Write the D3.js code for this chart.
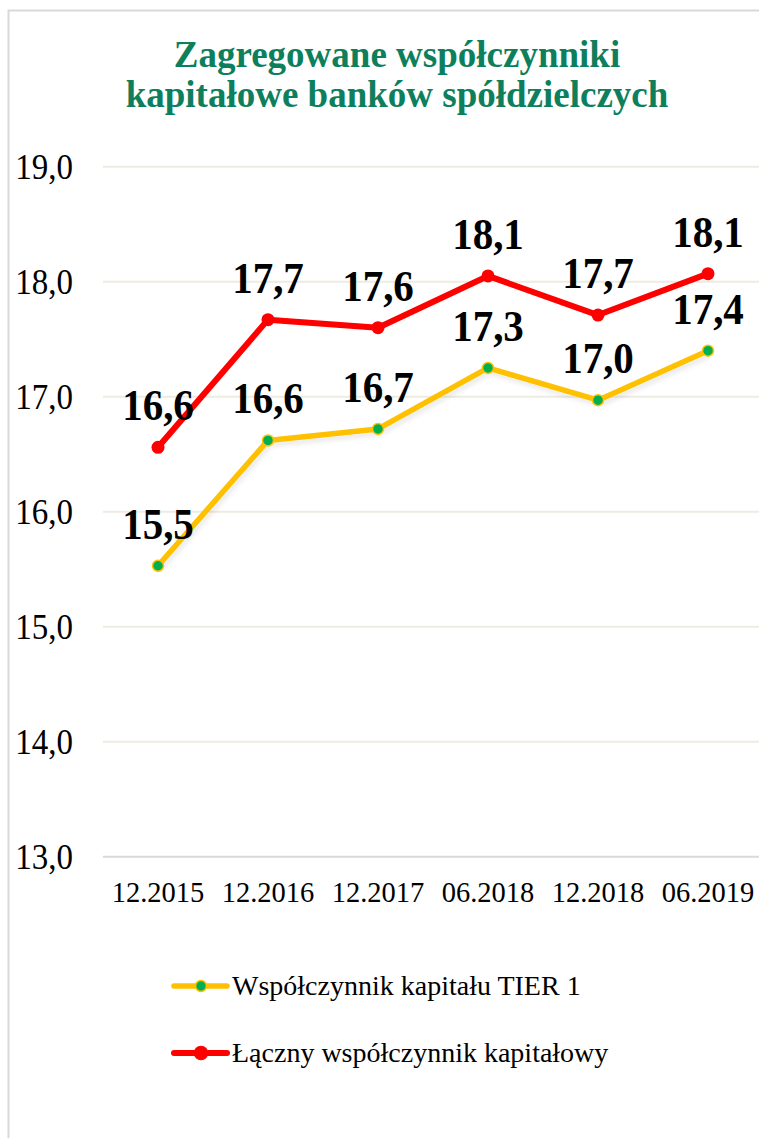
<!DOCTYPE html>
<html>
<head>
<meta charset="utf-8">
<script src="https://cdn.jsdelivr.net/npm/d3@7"></script>
<style>
  body { margin: 0; background: #fff; }
</style>
</head>
<body>
<svg id="chart"></svg>
<script>
// data
const periods = ["12.2015", "12.2016", "12.2017", "06.2018", "12.2018", "06.2019"];
const tier1 = [15.53, 16.62, 16.72, 17.25, 16.97, 17.40];
const total = [16.56, 17.67, 17.60, 18.05, 17.71, 18.07];
const tier1Labels = ["15,5", "16,6", "16,7", "17,3", "17,0", "17,4"];
const totalLabels = ["16,6", "17,7", "17,6", "18,1", "17,7", "18,1"];
const yTicks = [13, 14, 15, 16, 17, 18, 19];
const seriesNames = ["Współczynnik kapitału TIER 1", "Łączny współczynnik kapitałowy"];

const width = 759;
const height = 1138;
const serif = '"Liberation Serif", "Times New Roman", serif';
const stretch = 1.07; // text in the original is slightly taller than wide

const svg = d3.select("#chart")
  .attr("width", width)
  .attr("height", height)
  .style("font-family", serif);

// place text at (x, y) with a small vertical stretch
const place = (x, y) => `translate(${x},${y}) scale(1,${stretch})`;

// chart border
svg.append("rect")
  .attr("x", 8.5)
  .attr("y", 10.5)
  .attr("width", 800)
  .attr("height", 1200)
  .attr("fill", "none")
  .attr("stroke", "#d9d9d9")
  .attr("stroke-width", 2);

// title
const title = svg.append("text")
  .style("font-family", serif)
  .attr("text-anchor", "middle")
  .attr("fill", "#0d7f5d")
  .attr("font-weight", "bold")
  .attr("font-size", 37);
title.append("tspan").attr("x", 397).attr("y", 67).text("Zagregowane współczynniki");
title.append("tspan").attr("x", 397).attr("y", 107).text("kapitałowe banków spółdzielczych");

const xScale = d3.scalePoint()
  .domain(periods)
  .range([103, 763])
  .padding(0.5);

const yScale = d3.scaleLinear()
  .domain([13, 19])
  .range([856.7, 166.7]);

// gridlines
svg.append("g")
  .selectAll("line")
  .data(yTicks)
  .enter()
  .append("line")
  .attr("x1", 103)
  .attr("x2", 765)
  .attr("y1", d => yScale(d))
  .attr("y2", d => yScale(d))
  .attr("stroke", d => d === 13 ? "#d9d9d9" : "#eeebe0")
  .attr("stroke-width", 2);

// y tick labels
svg.append("g")
  .selectAll("text")
  .data(yTicks)
  .enter()
  .append("text")
  .style("font-family", serif)
  .attr("transform", d => place(73, yScale(d) + 12))
  .attr("text-anchor", "end")
  .attr("font-size", 33)
  .attr("fill", "#000")
  .text(d => d3.format(".1f")(d).replace(".", ","));

// x tick labels
svg.append("g")
  .selectAll("text")
  .data(periods)
  .enter()
  .append("text")
  .style("font-family", serif)
  .attr("transform", d => place(xScale(d), 902))
  .attr("text-anchor", "middle")
  .attr("font-size", 28.5)
  .attr("fill", "#000")
  .text(d => d);

// soft shadow like the original
const defs = svg.append("defs");
defs.append("filter")
  .attr("id", "shadow")
  .attr("x", "-10%").attr("y", "-10%")
  .attr("width", "120%").attr("height", "130%")
  .append("feDropShadow")
  .attr("dx", 2).attr("dy", 4)
  .attr("stdDeviation", 2)
  .attr("flood-color", "#000")
  .attr("flood-opacity", 0.08);

const line = d3.line()
  .x((d, i) => xScale(periods[i]))
  .y(d => yScale(d));

// TIER 1 line
svg.append("path")
  .datum(tier1)
  .attr("d", line)
  .attr("fill", "none")
  .attr("stroke", "#ffc000")
  .attr("stroke-width", 5.5)
  .attr("stroke-linejoin", "round")
  .attr("filter", "url(#shadow)");

svg.append("g")
  .selectAll("circle")
  .data(tier1)
  .enter()
  .append("circle")
  .attr("cx", (d, i) => xScale(periods[i]))
  .attr("cy", d => yScale(d))
  .attr("r", 5.5)
  .attr("fill", "#00b050")
  .attr("stroke", "#ffc000")
  .attr("stroke-width", 1.5);

// total capital line
svg.append("path")
  .datum(total)
  .attr("d", line)
  .attr("fill", "none")
  .attr("stroke", "#ff0000")
  .attr("stroke-width", 6)
  .attr("stroke-linejoin", "round");

svg.append("g")
  .selectAll("circle")
  .data(total)
  .enter()
  .append("circle")
  .attr("cx", (d, i) => xScale(periods[i]))
  .attr("cy", d => yScale(d))
  .attr("r", 6.5)
  .attr("fill", "#ff0000");

// data labels
function addLabels(values, labels) {
  svg.append("g")
    .selectAll("text")
    .data(values)
    .enter()
    .append("text")
    .style("font-family", serif)
    .attr("transform", (d, i) => place(xScale(periods[i]), yScale(d) - 27))
    .attr("text-anchor", "middle")
    .attr("font-size", 41)
    .attr("font-weight", "bold")
    .attr("fill", "#000")
    .text((d, i) => labels[i]);
}
addLabels(tier1, tier1Labels);
addLabels(total, totalLabels);

// legend
const legend = svg.append("g");
const legendRows = [
  { name: seriesNames[0], y: 986, stroke: "#ffc000", fill: "#00b050", w: 5.5, r: 5.5 },
  { name: seriesNames[1], y: 1053, stroke: "#ff0000", fill: "#ff0000", w: 6, r: 6.5 }
];
legendRows.forEach(row => {
  legend.append("line")
    .attr("x1", 174).attr("x2", 227)
    .attr("y1", row.y).attr("y2", row.y)
    .attr("stroke", row.stroke)
    .attr("stroke-width", row.w)
    .attr("stroke-linecap", "round");
  legend.append("circle")
    .attr("cx", 201).attr("cy", row.y)
    .attr("r", row.r)
    .attr("fill", row.fill)
    .attr("stroke", row.stroke)
    .attr("stroke-width", 1.5);
  legend.append("text")
    .style("font-family", serif)
    .attr("x", 232)
    .attr("y", row.y + 9)
    .attr("font-size", 28)
    .attr("fill", "#000")
    .text(row.name);
});
</script>
</body>
</html>
